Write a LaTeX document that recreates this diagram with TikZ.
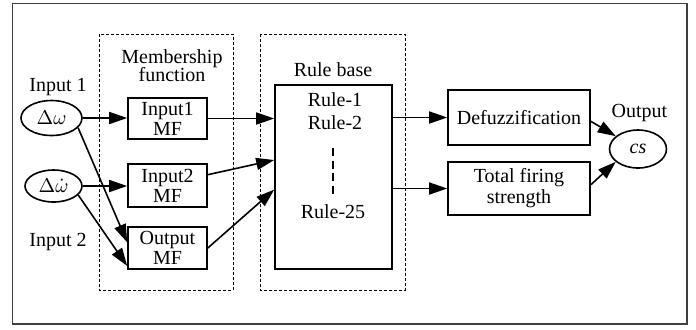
\documentclass[tikz,border=0pt]{standalone}
\usepackage{fontspec}
\setmainfont{Liberation Serif}
\usepackage{amsmath}
\usetikzlibrary{shapes.geometric,arrows.meta}

\begin{document}
\begin{tikzpicture}[x=0.5pt,y=-0.5pt,
  box/.style={draw,line width=0.8pt,align=center,inner sep=1pt},
  oval/.style={draw,ellipse,line width=0.8pt,inner sep=0pt},
  dashbox/.style={draw,dash pattern=on 1.5pt off 1pt,line width=0.4pt},
  arr/.style={line width=0.8pt,-{Triangle[length=9pt,width=6pt]}},
  lbl/.style={align=center}]
\useasboundingbox (0,0) rectangle (696,329);
\draw[line width=0.6pt,black!75] (12.5,3.5) rectangle (687,324);

% dashed groups
\draw[dashbox] (99,34) rectangle (233,290);
\draw[dashbox] (260,34) rectangle (405,290);
\node[lbl] (mflabel) at (172,66) {Membership\\[-3pt]function};
\node[lbl] (rblabel) at (333,70) {Rule base};

% inputs
\node[lbl] (in1label) at (58,87) {Input 1};
\node[lbl] (in2label) at (58,242) {Input 2};
\node[oval,minimum width=30.5pt,minimum height=17.5pt] (dw) at (51.5,118) {$\Delta\omega$};
\node[oval,minimum width=28.5pt,minimum height=16pt] (dwdot) at (53.5,186) {$\Delta\dot{\omega}$};

% membership functions
\node[box,minimum width=39.5pt,minimum height=20.5pt] (in1mf) at (167.5,118.5) {Input1\\[-2pt]MF};
\node[box,minimum width=39.5pt,minimum height=21.5pt] (in2mf) at (167.5,185.5) {Input2\\[-2pt]MF};
\node[box,minimum width=39.5pt,minimum height=21pt] (outmf) at (167.5,248) {Output\\[-2pt]MF};

% rule base
\node[box,minimum width=58.5pt,minimum height=92pt] (rule) at (333.5,177) {};
\node (r1) at (335,100) {Rule-1};
\node (r2) at (335,123) {Rule-2};
\node (r25) at (333,212) {Rule-25};
\coordinate (dtop) at (333,148);
\coordinate (dbot) at (333,198);
\draw[line width=0.6pt,dash pattern=on 4pt off 2.3pt] (dtop) -- (dbot);

% output side
\node[box,minimum width=71pt,minimum height=27.5pt] (defuzz) at (519,117.5) {Defuzzification};
\node[box,minimum width=71pt,minimum height=26.5pt] (total) at (519,188.5) {Total firing\\[-1.5pt]strength};
\node[lbl] (outlabel) at (639.5,113) {Output};
\node[oval,minimum width=28.5pt,minimum height=19pt] (cs) at (638,149) {\textit{cs}};

% connections
\draw[arr] (dw.east) -- (dw.east -| in1mf.west);
\draw[arr] (dwdot.east) -- (dwdot.east -| in2mf.west);
\draw[arr] (dw.-20) -- (outmf.172);
\draw[arr] (dwdot.-20) -- (outmf.204);
\draw[arr] (in1mf.east) -- (in1mf.east -| rule.west);
\draw[arr] (in2mf.15) -- (rule.164);
\draw[arr] (outmf.east) -- (rule.192);
\draw[arr] (defuzz.west -| rule.east) -- (defuzz.west);
\draw[arr] (total.west -| rule.east) -- (total.west);
\draw[arr] (defuzz.-3) -- (cs.150);
\draw[arr] (total.3) -- (cs.210);
\end{tikzpicture}
\end{document}
